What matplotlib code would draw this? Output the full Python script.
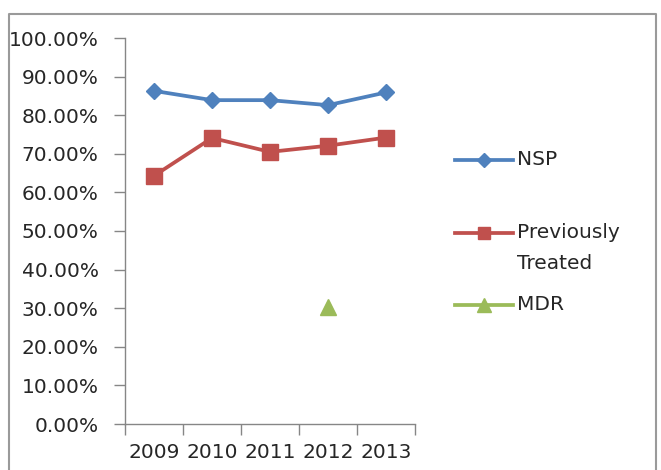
#!/usr/bin/env python3
"""Treatment success by patient category, 2009-2013 (Excel-style line chart)."""

import matplotlib
matplotlib.use("Agg")
import matplotlib.pyplot as plt
import numpy as np
from matplotlib.lines import Line2D
from matplotlib.ticker import FuncFormatter, MultipleLocator

YEARS = ["2009", "2010", "2011", "2012", "2013"]
NSP = [86.3, 83.9, 83.9, 82.6, 85.9]
PREV_TREATED = [64.3, 74.1, 70.5, 72.1, 74.2]
MDR = [np.nan, np.nan, np.nan, 30.4, np.nan]

SERIES = ["NSP", "Previously\nTreated", "MDR"]
COLORS = ["#4F81BD", "#C0504D", "#9BBB59"]
MARKERS = ["D", "s", "^"]
MSIZES = [8, 11, 12]

W, H = 661, 470
FS = 14.5
TXT = "#262626"
AXC = "#868686"


def px(x, y):
    """pixel (from top-left) -> figure fraction"""
    return x / W, 1 - y / H


def main() -> None:
    plt.rcParams.update({"font.family": "DejaVu Sans", "font.size": FS})
    fig = plt.figure(figsize=(W / 100, H / 100), dpi=100)
    ax = fig.add_axes([125 / W, 1 - 424 / H, 290 / W, 386 / H])

    x = np.arange(len(YEARS))
    for vals, col, mk, ms in zip([NSP, PREV_TREATED, MDR], COLORS, MARKERS, MSIZES):
        ax.plot(x, vals, color=col, lw=2.7, marker=mk, markersize=ms,
                markeredgecolor=col, solid_joinstyle="round", clip_on=False)

    ax.set_xlim(-0.5, len(YEARS) - 0.5)
    ax.set_ylim(0, 100)
    ax.yaxis.set_major_locator(MultipleLocator(10))
    ax.yaxis.set_major_formatter(FuncFormatter(lambda v, _: f"{v:.2f}%"))
    ax.set_xticks(x)
    ax.set_xticklabels(YEARS)
    ax.set_xticks(np.arange(-0.5, len(YEARS)), minor=True)
    ax.tick_params(axis="x", which="major", length=0, pad=14, colors=TXT, labelsize=FS)
    ax.tick_params(axis="x", which="minor", length=8, width=1, color=AXC, direction="out")
    ax.tick_params(axis="y", length=8, width=1, color=AXC, labelcolor=TXT, pad=11, labelsize=FS)
    for s in ("top", "right"):
        ax.spines[s].set_visible(False)
    for s in ("left", "bottom"):
        ax.spines[s].set_color(AXC)
        ax.spines[s].set_linewidth(1.0)

    # legend, Excel layout
    leg_y = [160, 233, 305]
    for name, col, mk, ms, yy in zip(SERIES, COLORS, MARKERS, MSIZES, leg_y):
        x0, y0 = px(455, yy)
        x1, _ = px(513, yy)
        fig.add_artist(Line2D([x0, x1], [y0, y0], transform=fig.transFigure,
                              color=col, lw=2.7))
        fig.add_artist(Line2D([(x0 + x1) / 2], [y0], transform=fig.transFigure,
                              color=col, marker=mk, markersize=ms * 0.85,
                              markeredgecolor=col, lw=0))
        tx, ty = px(517, yy - 10)
        fig.text(tx, ty, name, ha="left", va="top", color=TXT, fontsize=FS,
                 linespacing=1.8)

    # chart area border
    bx = [9, 9, 656, 656]
    by = [470, 14, 14, 470]
    fig.add_artist(Line2D([v / W for v in bx], [1 - v / H for v in by],
                          transform=fig.transFigure, color="#9a9a9a", lw=1.5))

    fig.savefig("out.png", dpi=100, facecolor="white")
    plt.close(fig)


if __name__ == "__main__":
    main()
